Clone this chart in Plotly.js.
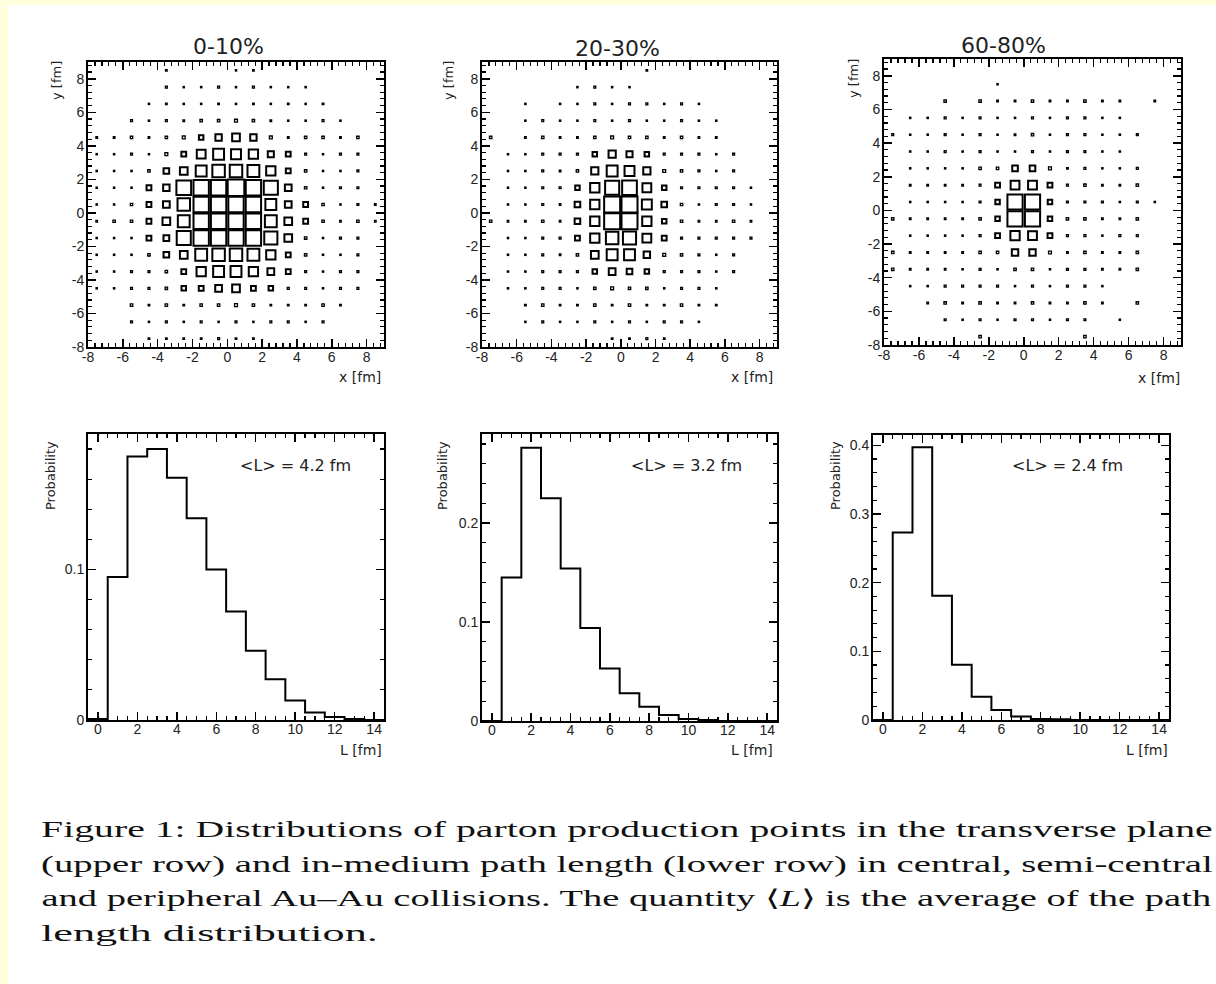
<!DOCTYPE html>
<html>
<head>
<meta charset="utf-8">
<script src="https://cdn.plot.ly/plotly-3.0.1.min.js"></script>
<style>
html, body { margin: 0; padding: 0; background: #ffffff; }
#chart { width: 1216px; height: 984px; }
</style>
</head>
<body>
<div id="chart"></div>
<script>
// ---------- data ----------
// bin centres of the transverse-plane histograms (fm)
const xCenters = [-7.5, -6.5, -5.5, -4.5, -3.5, -2.5, -1.5, -0.5, 0.5, 1.5, 2.5, 3.5, 4.5, 5.5, 6.5, 7.5, 8.5];
const yCenters = [8.5, 7.5, 6.5, 5.5, 4.5, 3.5, 2.5, 1.5, 0.5, -0.5, -1.5, -2.5, -3.5, -4.5, -5.5, -6.5, -7.5];
const xyTickVals = [-8, -6, -4, -2, 0, 2, 4, 6, 8];
const xyTickText = ['-8', '-6', '-4', '-2', '0', '2', '4', '6', '8'];

// relative cell contents (max = 100), rows from y = 8.5 (top) to y = -7.5 (bottom)
const grid0to10 = [
  [0,0,0,0,10,0,0,0,8,10,0,0,0,0,0,0,0],
  [0,0,0,0,12,8,8,12,8,12,8,8,8,0,0,0,0],
  [0,0,0,8,10,8,8,10,8,10,8,10,8,10,0,0,0],
  [0,0,12,8,12,10,15,15,18,15,10,8,8,12,8,0,0],
  [10,10,15,10,15,18,28,40,48,40,18,10,15,15,10,15,0],
  [8,8,12,8,18,30,55,68,62,58,38,30,12,8,12,12,0],
  [8,8,8,15,35,48,68,78,78,74,58,30,15,8,8,12,0],
  [8,8,8,30,40,92,96,96,104,96,88,42,15,8,12,12,0],
  [8,8,15,30,42,78,96,96,96,96,68,42,30,15,8,12,10],
  [10,15,15,30,48,74,96,96,96,96,74,48,30,15,10,15,10],
  [8,8,8,30,36,88,96,96,96,96,82,48,15,8,12,12,0],
  [8,8,8,15,35,48,74,78,78,74,58,30,15,8,8,12,0],
  [8,8,12,12,15,30,58,68,68,58,42,30,12,8,12,12,0],
  [8,8,12,12,15,28,30,42,48,30,28,12,12,8,12,12,0],
  [0,0,15,10,15,10,15,15,18,15,10,10,10,15,10,0,0],
  [0,0,12,8,12,8,12,8,12,8,12,12,8,12,0,0,0],
  [0,0,0,10,10,10,10,12,10,10,0,0,0,0,0,0,0]
];
const grid20to30 = [
  [0,0,0,0,0,0,0,0,0,10,0,0,0,0,0,0,0],
  [0,0,0,0,0,8,12,8,8,0,0,0,0,0,0,0,0],
  [0,0,8,0,8,8,12,8,12,12,8,12,8,0,0,0,0],
  [0,0,8,12,8,8,12,8,12,8,8,12,8,8,0,0,0],
  [15,0,10,15,10,10,15,18,15,15,10,15,10,10,0,0,0],
  [0,8,8,12,12,12,28,45,38,28,12,12,12,8,12,0,0],
  [0,8,8,12,10,15,45,68,62,45,18,15,12,8,12,0,0],
  [0,8,8,12,12,28,58,88,92,55,28,12,12,12,12,8,0],
  [0,8,8,12,10,35,58,100,100,62,35,15,8,12,12,8,0],
  [15,10,10,15,10,35,58,100,100,58,28,15,10,10,15,10,0],
  [0,8,8,12,12,30,58,78,82,55,30,12,12,12,12,12,0],
  [0,8,8,12,10,15,48,68,68,40,18,15,12,8,12,0,0],
  [0,8,8,12,12,12,28,42,35,28,12,12,12,8,12,0,0],
  [0,8,8,12,12,8,15,18,15,15,8,12,12,8,0,0,0],
  [0,0,10,15,10,10,15,10,15,10,10,15,10,10,0,0,0],
  [0,0,8,12,8,8,12,8,12,8,12,12,8,0,0,0,0],
  [0,0,0,0,0,0,0,10,10,12,10,0,0,0,0,0,0]
];
const grid60to80 = [
  [0,0,0,0,0,0,0,0,0,0,0,0,0,0,0,0,0],
  [0,0,0,0,0,0,8,0,0,0,0,0,0,0,0,0,0],
  [0,0,0,15,0,15,10,10,15,10,10,15,10,10,0,10,0],
  [0,8,8,12,8,12,8,8,12,8,12,12,8,8,0,0,0],
  [12,8,8,12,8,12,8,10,15,8,12,12,8,8,12,0,0],
  [0,8,8,12,8,12,8,8,12,8,12,12,8,8,0,0,0],
  [0,8,8,8,8,15,15,35,35,18,10,12,8,8,12,0,0],
  [0,10,10,10,10,12,30,55,55,30,12,15,10,10,15,0,0],
  [0,8,8,8,8,12,28,95,95,28,12,12,12,8,12,8,0],
  [15,10,10,10,10,15,28,95,95,28,15,15,10,10,15,0,0],
  [0,8,8,8,8,12,30,58,55,30,12,12,8,12,12,0,0],
  [15,10,10,10,10,15,15,40,40,18,10,15,10,10,15,0,0],
  [15,10,10,10,8,12,8,15,15,8,12,12,10,10,15,0,0],
  [0,8,8,12,12,12,12,8,12,8,12,12,8,0,0,0,0],
  [0,0,10,15,10,15,10,10,15,10,10,15,10,0,15,0,0],
  [0,0,0,12,8,12,8,12,12,8,12,12,0,8,0,0,0],
  [0,0,0,0,0,15,0,0,0,0,0,15,0,0,0,0,0]
];

// path-length histograms: bin edges (fm) and probability per bin
const lEdges = [-0.5, 0.5, 1.5, 2.5, 3.5, 4.5, 5.5, 6.5, 7.5, 8.5, 9.5, 10.5, 11.5, 12.5, 13.5, 14.5];
const prob0to10  = [0.0007, 0.095, 0.175, 0.180, 0.161, 0.134, 0.100, 0.072, 0.046, 0.027, 0.013, 0.005, 0.002, 0.0007, 0];
const prob20to30 = [0, 0.145, 0.276, 0.225, 0.154, 0.094, 0.053, 0.028, 0.0145, 0.006, 0.002, 0.001, 0, 0, 0];
const prob60to80 = [0, 0.273, 0.397, 0.181, 0.0805, 0.034, 0.0146, 0.005, 0.0015, 0.001, 0, 0, 0, 0, 0];

const centralityLabels = ['0-10%', '20-30%', '60-80%'];
const meanLengthLabels = ['&lt;L&gt; = 4.2 fm', '&lt;L&gt; = 3.2 fm', '&lt;L&gt; = 2.4 fm'];

const captionLines = [
  'Figure 1: Distributions of parton production points in the transverse plane',
  '(upper row) and in-medium path length (lower row) in central, semi-central',
  'and peripheral Au–Au collisions. The quantity ⟨<i>L</i>⟩ is the average of the path',
  'length distribution.'
];

// ---------- layout helpers ----------
const W = 1216, H = 984;
const px = v => v / W;
const py = v => 1 - v / H;

function boxTrace(grid, xa, ya) {
  const x = [], y = [], s = [], lw = [];
  grid.forEach((row, i) => row.forEach((v, j) => {
    if (v > 0) { x.push(xCenters[j]); y.push(yCenters[i]); s.push(v); lw.push(v < 20 ? 1.3 : 2); }
  }));
  return {
    type: 'scatter', mode: 'markers', x: x, y: y, xaxis: xa, yaxis: ya,
    marker: { symbol: 'square-open', size: s, sizemode: 'diameter', sizeref: 100 / 16.0,
              color: '#000', opacity: 1, line: { width: lw, color: '#000' } },
    hoverinfo: 'skip', showlegend: false, cliponaxis: true
  };
}
function histTrace(vals, xa, ya) {
  return {
    type: 'scatter', mode: 'lines', x: lEdges, y: vals.concat([vals[vals.length - 1]]),
    xaxis: xa, yaxis: ya, line: { shape: 'hv', color: '#000', width: 2 },
    hoverinfo: 'skip', showlegend: false
  };
}

const tickFont = { family: 'Liberation Sans, Arial, sans-serif', size: 14, color: '#222' };
function frameAxis(extra) {
  return Object.assign({
    showline: true, linewidth: 2, linecolor: '#000', mirror: 'ticks',
    ticks: 'inside', ticklen: 8, tickwidth: 1.5, tickcolor: '#000',
    showgrid: false, zeroline: false, tickfont: tickFont, fixedrange: true
  }, extra);
}
const minorStyle = { ticks: 'inside', ticklen: 4, tickwidth: 1.2, tickcolor: '#000', tickmode: 'linear' };
function xyAxis(domain, anchor, standoff) {
  return frameAxis({
    domain: domain, anchor: anchor, range: [-8, 9], ticklabelstandoff: standoff,
    tickmode: 'array', tickvals: xyTickVals, ticktext: xyTickText,
    minor: Object.assign({ tick0: -8, dtick: 0.4 }, minorStyle)
  });
}
function lAxis(domain, anchor) {
  return frameAxis({
    domain: domain, anchor: anchor, range: [-0.5, 14.5], tickmode: 'linear', tick0: 0, dtick: 2,
    ticklabelstandoff: -5,
    minor: Object.assign({ tick0: 0, dtick: 0.5 }, minorStyle)
  });
}
function pAxis(domain, anchor, top) {
  return frameAxis({
    domain: domain, anchor: anchor, range: [0, top], tickmode: 'linear', tick0: 0, dtick: 0.1,
    ticklabelstandoff: -1,
    minor: Object.assign({ tick0: 0, dtick: 0.02 }, minorStyle)
  });
}

// panel frames in pixels [left, right, top, bottom]
const topFrames = [[88, 384, 62, 347], [482, 777, 62, 347], [884, 1181, 59, 345]];
const botFrames = [[88, 384, 434, 720], [482, 777, 434, 721], [873, 1169, 435, 720]];
const grids = [grid0to10, grid20to30, grid60to80];
const probs = [prob0to10, prob20to30, prob60to80];
const pTops = [0.19, 0.29, 0.415];

const data = [];
const layout = {
  width: W, height: H, margin: { l: 0, r: 0, t: 0, b: 0 },
  paper_bgcolor: 'rgb(255,255,221)', plot_bgcolor: '#ffffff',
  showlegend: false, annotations: [],
  shapes: [{ type: 'rect', xref: 'paper', yref: 'paper', x0: px(8), x1: 1.01, y0: -0.01, y1: py(5),
             fillcolor: '#ffffff', line: { width: 0 }, layer: 'below' }]
};

for (let k = 0; k < 3; k++) {
  const ti = 2 * k + 1, bi = 2 * k + 2;
  const tx = 'x' + ti, ty = 'y' + ti, bx = 'x' + bi, by = 'y' + bi;
  const tf = topFrames[k], bf = botFrames[k];
  layout['xaxis' + ti] = xyAxis([px(tf[0]), px(tf[1])], ty, -4);
  layout['yaxis' + ti] = xyAxis([py(tf[3]), py(tf[2])], tx, -1);
  layout['xaxis' + bi] = lAxis([px(bf[0]), px(bf[1])], by);
  layout['yaxis' + bi] = pAxis([py(bf[3]), py(bf[2])], bx, pTops[k]);
  data.push(boxTrace(grids[k], tx, ty));
  data.push(histTrace(probs[k], bx, by));
}

// text placements (pixel centres)
const titlePos = [[228, 47], [617, 48], [1003, 45]];
const yTitlePos = [[57, 81], [449, 81], [853, 79]];
const xTitlePos = [[360, 377], [752, 377], [1159, 378]];
const probTitlePos = [[50, 476], [442, 476], [835, 476]];
const lTitlePos = [[361, 750], [752, 750], [1147, 750]];
const meanPos = [[295, 465], [686, 465], [1067, 465]];

const sans = 'DejaVu Sans, sans-serif';
function ann(text, p, size, angle) {
  return { text: text, xref: 'paper', yref: 'paper', x: px(p[0]), y: py(p[1]),
           xanchor: 'center', yanchor: 'middle', showarrow: false, textangle: angle || 0,
           font: { family: sans, size: size, color: '#222' } };
}
for (let k = 0; k < 3; k++) {
  layout.annotations.push(ann(centralityLabels[k], titlePos[k], 22));
  layout.annotations.push(ann('y [fm]', yTitlePos[k], 13, -90));
  layout.annotations.push(ann('x [fm]', xTitlePos[k], 14));
  layout.annotations.push(ann('Probability', probTitlePos[k], 13, -90));
  layout.annotations.push(ann('L [fm]', lTitlePos[k], 14));
  layout.annotations.push(ann(meanLengthLabels[k], meanPos[k], 16));
}
const capStart = layout.annotations.length;
const capY = [829, 864, 898, 933];
const capRight = [1213, 1213, 1213, 378];   // right edge (px) of each caption line in the figure
captionLines.forEach((t, i) => {
  layout.annotations.push({ text: t, xref: 'paper', yref: 'paper', x: px(39), y: py(capY[i]),
    xanchor: 'left', yanchor: 'middle', showarrow: false,
    font: { family: 'Liberation Serif, Times New Roman, serif', size: 23, color: '#111' } });
});

Plotly.newPlot('chart', data, layout, { staticPlot: true, displayModeBar: false }).then(gd => {
  // the caption is set in a wide (stretched) face: widen each line to its measured extent
  gd.querySelectorAll('g.annotation').forEach(g => {
    const idx = +g.getAttribute('data-index');
    if (idx >= capStart) {
      const t = g.querySelector('text.annotation-text');
      const w = t.getBBox().width;
      const s = (capRight[idx - capStart] - 41) / w;
      t.style.transformBox = 'fill-box';
      t.style.transformOrigin = 'left center';
      t.style.transform = 'scaleX(' + s.toFixed(4) + ')';
    }
  });
});
</script>
</body>
</html>
